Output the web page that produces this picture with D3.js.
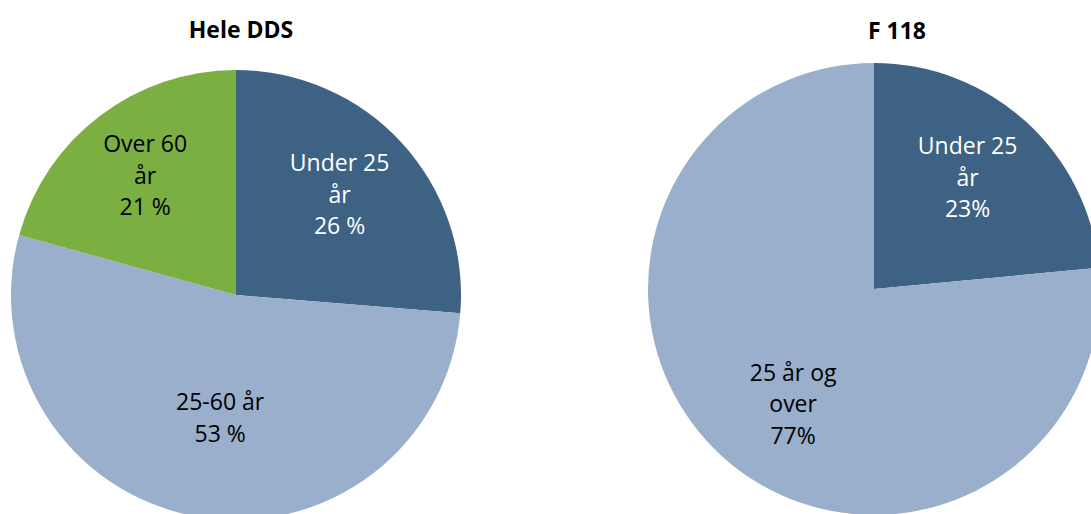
<!DOCTYPE html>
<html><head><meta charset="utf-8">
<script src="https://cdn.jsdelivr.net/npm/d3@7"></script>
<style>body{margin:0;background:#fff}svg{display:block}</style>
</head><body>
<svg id="c" width="1091" height="514"></svg>
<script>
// Data
const leftTitle = "Hele DDS";
const leftCategories = ["Under 25 år", "25-60 år", "Over 60 år"];
const leftLabels = [["Under 25","år","26 %"],["25-60 år","53 %"],["Over 60","år","21 %"]];
const leftValues = [26.3, 53, 20.7];

const rightTitle = "F 118";
const rightCategories = ["Under 25 år", "25 år og over"];
const rightLabels = [["Under 25","år","23%"],["25 år og","over","77%"]];
const rightValues = [23.5, 76.5];

const svg = d3.select("#c");
const font = "'Open Sans', 'Noto Sans', sans-serif";

function drawPie(cfg){
  const g = svg.append("g").attr("transform", `translate(${cfg.cx},${cfg.cy})`);
  const pie = d3.pie().sort(null).value(d => d);
  const arcs = pie(cfg.values);
  const arc = d3.arc().innerRadius(0).outerRadius(cfg.r);
  g.selectAll("path.slice").data(arcs).join("path")
    .attr("class","slice")
    .attr("d", arc)
    .attr("fill", (d,i) => cfg.colors[i]);
  arcs.forEach((d,i) => {
    const lr = cfg.labelR[i];
    let [x,y] = d3.arc().innerRadius(lr).outerRadius(lr).centroid(d);
    x += cfg.nudge[i][0]; y += cfg.nudge[i][1];
    const lines = cfg.labels[i];
    const lh = 31.5;
    const t = g.append("text")
      .attr("text-anchor","middle")
      .attr("font-family", font)
      .attr("font-size", 23)
      .attr("fill", cfg.textColors[i]);
    lines.forEach((ln,j) => {
      t.append("tspan").attr("x", x)
        .attr("y", y + (j - (lines.length-1)/2)*lh)
        .attr("dy","0.35em").text(ln);
    });
  });
  svg.append("text")
    .attr("x", cfg.tx).attr("y", cfg.ty)
    .attr("text-anchor","middle")
    .attr("font-family", font)
    .attr("font-weight", "bold")
    .attr("font-size", 23)
    .attr("fill", "#000")
    .text(cfg.title);
}

const dark = "#3e6283", light = "#99afcb", green = "#7baf41";

drawPie({cx:236, cy:295, r:225, values:leftValues, labels:leftLabels,
  colors:[dark, light, green], textColors:["#fff","#000","#000"],
  labelR:[145,125,150], nudge:[[-3,-2],[6,0],[0,0]], title:leftTitle, tx:241, ty:38});

drawPie({cx:874, cy:289, r:226, values:rightValues, labels:rightLabels,
  colors:[dark, light], textColors:["#fff","#000"],
  labelR:[148,141], nudge:[[-6,-2],[14,11]], title:rightTitle, tx:897, ty:39});
</script>
</body></html>
